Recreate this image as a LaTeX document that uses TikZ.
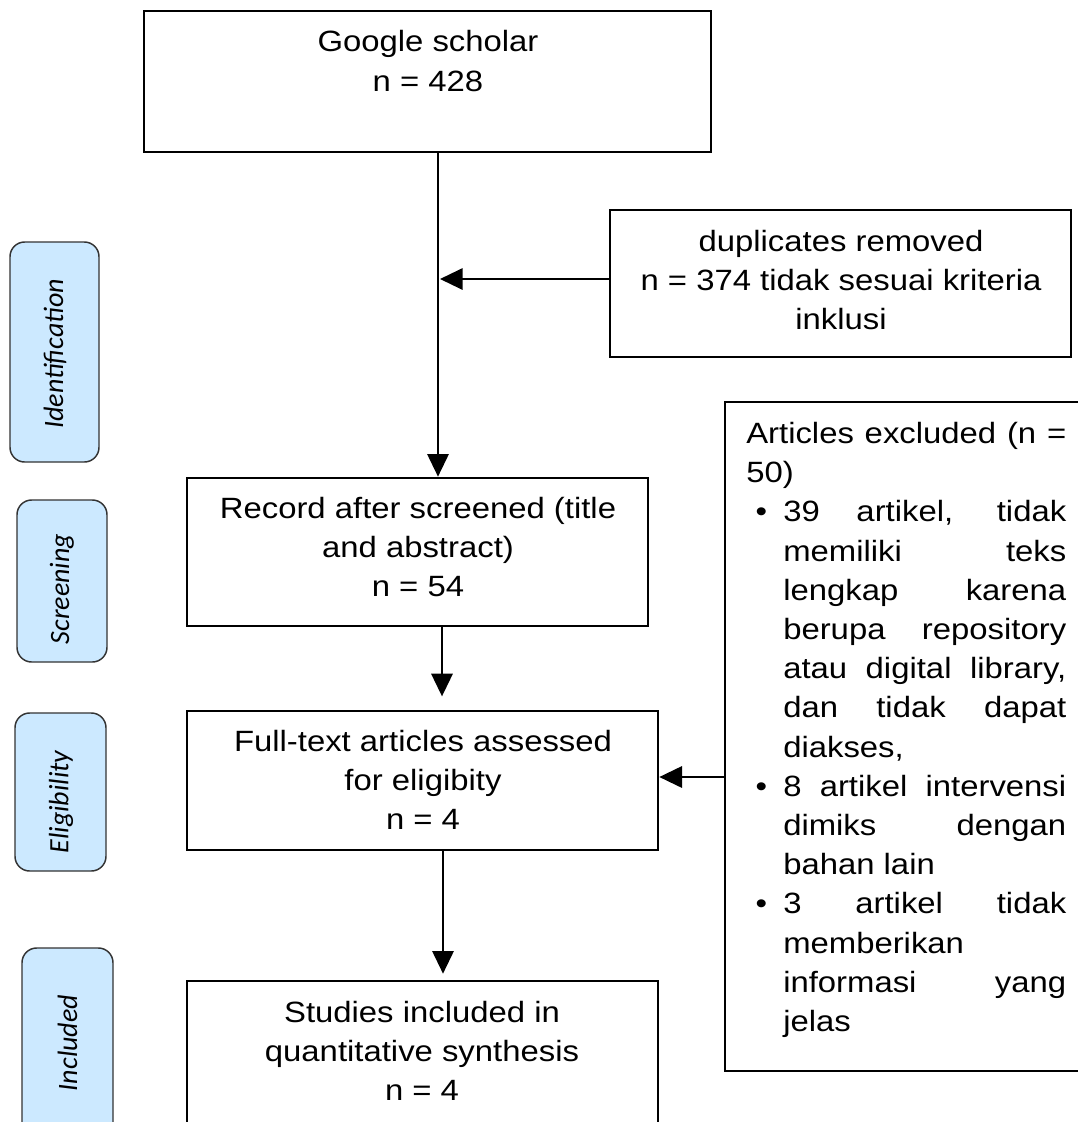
\documentclass[tikz,border=0pt]{standalone}
\usepackage{fontspec}
\setmainfont{Liberation Sans}[FakeStretch=1.12]
\newfontfamily\sidefont{Carlito}
\usetikzlibrary{arrows.meta,fit}
\definecolor{sideblue}{RGB}{204,233,255}
\newcommand{\jline}[2]{\makebox[#1][s]{#2}}
\newcommand{\bul}{\makebox[27.75pt][l]{\hspace{7pt}\textbullet}}
\newcommand{\ind}{\makebox[27.75pt]{}}
\begin{document}
\begin{tikzpicture}[x=0.75pt,y=-0.75pt,
  box/.style={draw, line width=2pt, inner sep=0pt},
  txt/.style={align=center, font=\fontsize{22}{29.4}\selectfont, inner sep=0pt},
  side/.style={draw=black!80, line width=1.1pt, fill=sideblue, rounded corners=11pt, inner sep=0pt},
  sidetxt/.style={rotate=90, font=\sidefont\itshape\fontsize{21}{22}\selectfont, inner sep=0pt},
  arr/.style={line width=1.6pt, -{Triangle[length=17pt,width=16pt]}}]
\clip (0,0) rectangle (1078,1122);
\fill[white] (0,0) rectangle (1078,1122);
% side labels
\node[side, fit={(10,242)(99,462)}] (s1) {};
\node[sidetxt] (s1t) at (55,354) {Identification};
\node[side, fit={(17,500)(107,662)}] (s2) {};
\node[sidetxt] (s2t) at (62,589) {Screening};
\node[side, fit={(15,713)(106,871)}] (s3) {};
\node[sidetxt] (s3t) at (61,802) {Eligibility};
\node[side, fit={(22,948)(113,1150)}] (s4) {};
\node[sidetxt] (s4t) at (67.5,1043) {Included};
% main boxes
\node[box, fit={(144,11)(711,152)}] (g) {};
\node[txt] (gt) at (428,61) {Google scholar\\n = 428};
\node[box, fit={(610,210)(1071,357)}] (d) {};
\node[txt] (dt) at (841,280) {duplicates removed\\n = 374 tidak sesuai kriteria\\inklusi};
\node[box, fit={(187,478)(648,626)}] (r) {};
\node[txt] (rt) at (418,547) {Record after screened (title\\and abstract)\\n = 54};
\node[box, fit={(187,711)(658,850)}] (f) {};
\node[txt] (ft) at (423,780) {Full-text articles assessed\\for eligibity\\n = 4};
\node[box, fit={(187,981)(658,1150)}] (s) {};
\node[txt] (st) at (422,1051) {Studies included in\\quantitative synthesis\\n = 4};
\node[box, fit={(725,402)(1100,1071)}] (e) {};
\node[anchor=north west, align=left, inner sep=0pt, font=\fontsize{22}{29.4}\selectfont] (et) at (746,422) {%
\jline{240pt}{Articles excluded (n =}\\
50)\\
\bul\jline{212.25pt}{39 artikel, tidak}\\
\ind\jline{212.25pt}{memiliki teks}\\
\ind\jline{212.25pt}{lengkap karena}\\
\ind\jline{212.25pt}{berupa repository}\\
\ind\jline{212.25pt}{atau digital library,}\\
\ind\jline{212.25pt}{dan tidak dapat}\\
\ind diakses,\\
\bul\jline{212.25pt}{8 artikel intervensi}\\
\ind\jline{212.25pt}{dimiks dengan}\\
\ind bahan lain\\
\bul\jline{212.25pt}{3 artikel tidak}\\
\ind memberikan\\
\ind\jline{212.25pt}{informasi yang}\\
\ind jelas};
% connectors
\draw[arr] (438,0 |- g.south) -- (438,0 |- r.north);
\draw[arr] (d.west |- 0,279) -- (440,279);
\draw[arr, shorten >=10pt] (442,0 |- r.south) -- (442,0 |- f.north);
\draw[arr, shorten >=4.5pt] (443,0 |- f.south) -- (443,0 |- s.north);
\draw[arr] (e.west |- 0,777) -- (f.east |- 0,777);
\end{tikzpicture}
\end{document}
